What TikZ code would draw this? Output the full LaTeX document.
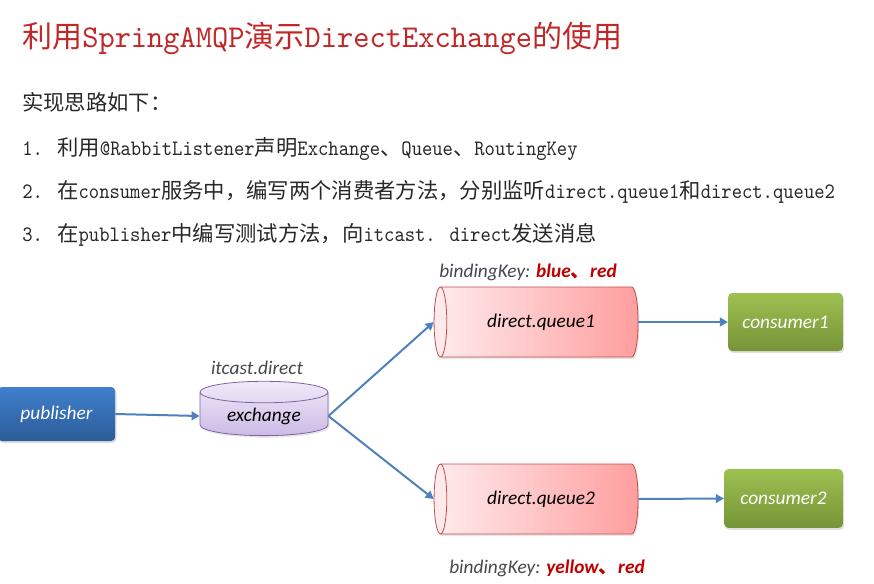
\documentclass[tikz,border=0pt]{standalone}
\usepackage{fontspec}
\usetikzlibrary{shapes.geometric,shadows,arrows.meta}
\newfontfamily\zh{Noto Sans CJK SC}
\newfontfamily\hand{Carlito}
\newfontfamily\lmm{lmmono10-regular.otf}[FakeStretch=0.894]
\newfontfamily\lmt{lmmono10-regular.otf}[FakeStretch=0.975]
\newcommand\zb[1]{{\zh\fontsize{16pt}{18pt}\selectfont #1}}
\newcommand\zt[1]{{\zh\fontsize{22.5pt}{27pt}\selectfont #1}}
\definecolor{titlered}{RGB}{192,40,40}
\definecolor{bodytext}{RGB}{40,40,40}
\definecolor{arrowblue}{RGB}{79,129,189}
\definecolor{pubtop}{RGB}{64,128,205}
\definecolor{pubbot}{RGB}{44,92,152}
\definecolor{contop}{RGB}{158,192,80}
\definecolor{conbot}{RGB}{118,148,56}
\definecolor{qleft}{RGB}{254,236,238}
\definecolor{qright}{RGB}{255,158,158}
\definecolor{qdraw}{RGB}{192,80,77}
\definecolor{extop}{RGB}{240,234,248}
\definecolor{exbot}{RGB}{204,186,230}
\definecolor{exdraw}{RGB}{128,100,162}
\definecolor{keyred}{RGB}{192,0,0}
\definecolor{labgray}{RGB}{70,70,80}
\begin{document}
\begin{tikzpicture}[x=0.75pt,y=-0.75pt,
  bodyline/.style={anchor=base west, inner sep=0pt, text=bodytext,
    font=\lmm\fontsize{16.5pt}{18pt}\selectfont},
  hw/.style={font=\hand\itshape\fontsize{14.5pt}{17pt}\selectfont},
  box/.style={rectangle, rounded corners=3pt, minimum width=87pt, minimum height=42pt,
    text=white, hw, drop shadow={opacity=0.25,shadow xshift=1pt,shadow yshift=-1.5pt}},
  pubbox/.style={box, top color=pubtop, bottom color=pubbot},
  conbox/.style={box, top color=contop, bottom color=conbot},
  queue/.style={cylinder, shape border rotate=180, aspect=0.5,
    minimum width=52.5pt, minimum height=153pt, draw=qdraw, line width=0.6pt,
    left color=qleft, right color=qright, hw, text=black,
    drop shadow={opacity=0.2,shadow xshift=1pt,shadow yshift=-1.5pt}},
  exch/.style={cylinder, shape border rotate=90, aspect=0.26,
    minimum width=96pt, minimum height=38pt, draw=exdraw, line width=0.6pt,
    top color=extop, bottom color=exbot, hw, text=black,
    drop shadow={opacity=0.2,shadow xshift=1pt,shadow yshift=-1.5pt}},
  arr/.style={draw=arrowblue, line width=1.5pt, -{Triangle[length=6pt,width=6.5pt]}},
  lab/.style={hw, text=labgray, inner sep=0pt}
]
\useasboundingbox (0,0) rectangle (874,583);

% title and text
\node[anchor=base west, inner sep=0pt, text=titlered,
  font=\lmt\fontsize{23.8pt}{27pt}\selectfont] (title) at (22,47)
  {\zt{利用}SpringAMQP\zt{演示}DirectExchange\zt{的使用}};
\node[bodyline] (intro) at (22,110) {\zb{实现思路如下：}};
\node[bodyline] (l1) at (22,155) {\makebox[26.25pt][l]{1.}\zb{利用}@RabbitListener\zb{声明}Exchange\zb{、}Queue\zb{、}RoutingKey};
\node[bodyline] (l2) at (22,198) {\makebox[26.25pt][l]{2.}\zb{在}consumer\zb{服务中，编写两个消费者方法，分别监听}direct.queue1\zb{和}direct.queue2};
\node[bodyline] (l3) at (22,241) {\makebox[26.25pt][l]{3.}\zb{在}publisher\zb{中编写测试方法，向}itcast. direct\zb{发送消息}};

% diagram nodes
\node[pubbox, minimum width=88pt, minimum height=40.5pt] (pub) at (56.5,414) {publisher};
\node[exch] (ex) at (264,416) {exchange};
\node[lab] (exlab) at (257,368) {itcast.direct};
\node[queue] (q1) at (541,322) {direct.queue1};
\node[queue] (q2) at (541,499) {direct.queue2};
\node[conbox, minimum width=86pt, minimum height=43.5pt] (c1) at (785.5,322) {consumer1};
\node[conbox, minimum width=89pt, minimum height=44pt] (c2) at (783.5,498.5) {consumer2};
\node[lab] (k1) at (528,272) {bindingKey: \textbf{\color{keyred}blue{\zh 、}red}};
\node[lab] (k2) at (547,568) {bindingKey: \textbf{\color{keyred}yellow{\zh 、}red}};

% connectors
\draw[arr] (pub.east) -- (ex.west);
\draw[arr] (ex.east) -- (q1.west);
\draw[arr] (ex.east) -- (q2.west);
\draw[arr] (q1.east) -- (c1.west);
\draw[arr] (q2.east) -- (c2.west);
\end{tikzpicture}
\end{document}
